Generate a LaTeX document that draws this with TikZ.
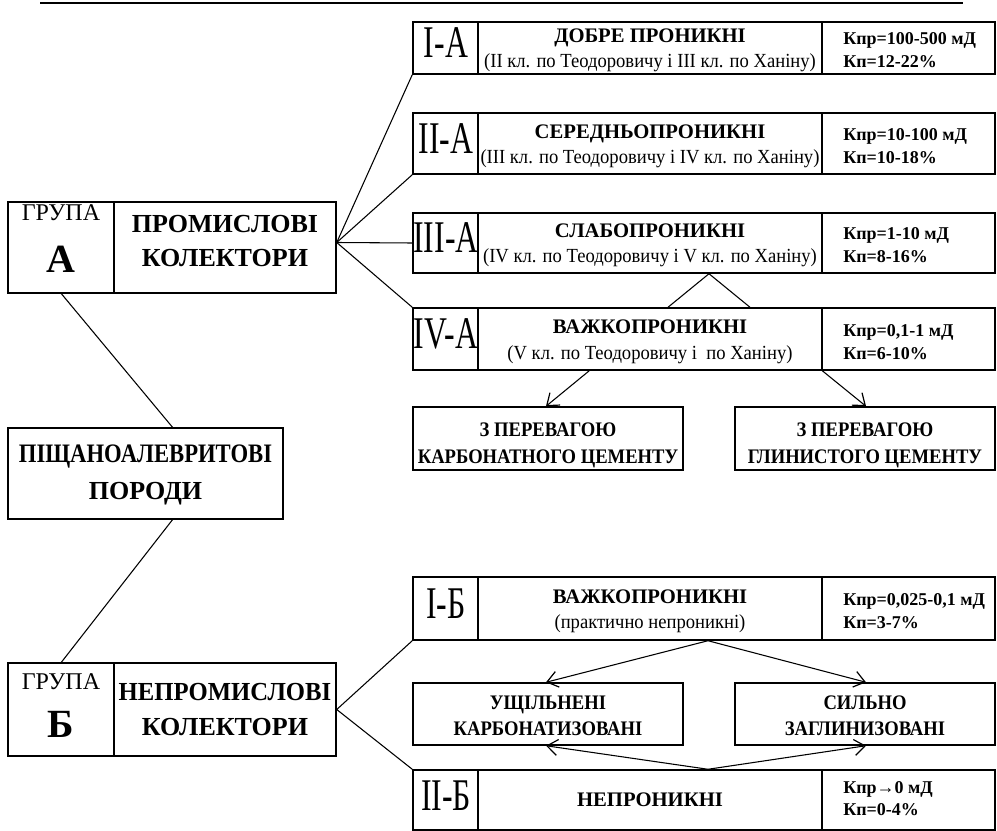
\documentclass[tikz,border=0pt]{standalone}
\usepackage{fontspec}
\usepackage{graphicx}
\setmainfont{Liberation Serif}
\newfontfamily\lblfont{Liberation Serif}[FakeStretch=0.7]
\newfontfamily\subfont{Liberation Serif}[FakeStretch=0.93]
\newfontfamily\midfont{Liberation Serif}[FakeStretch=0.9]
\newfontfamily\ppfont{Liberation Serif}[FakeStretch=0.85]
\newfontfamily\npfont{Liberation Serif}[FakeStretch=0.95]
\usetikzlibrary{arrows.meta,fit,calc}
\tikzset{
  x=0.75pt, y=-0.75pt,
  box/.style={draw, line width=1.1pt, inner sep=0pt},
  divline/.style={line width=1.1pt},
  link/.style={line width=0.8pt},
  arr/.style={line width=0.8pt, -{Straight Barb[length=8pt,width=12pt,line width=0.9pt]}},
  lbl/.style={font=\lblfont\fontsize{34}{36}\selectfont, inner sep=0, anchor=base},
  ttl/.style={font=\bfseries\fontsize{15.5}{17}\selectfont, inner sep=0, anchor=base},
  subt/.style={font=\subfont\fontsize{15}{17}\selectfont, inner sep=0, anchor=base},
  kk/.style={font=\bfseries\fontsize{13.5}{15}\selectfont, inner sep=0, anchor=base west},
  big/.style={font=\bfseries\fontsize{19.5}{22}\selectfont, inner sep=0, anchor=base},
  grp/.style={font=\fontsize{18}{20}\selectfont, inner sep=0, anchor=base},
  grpl/.style={font=\bfseries\fontsize{30}{32}\selectfont, inner sep=0, anchor=base},
  sbx/.style={font=\midfont\bfseries\fontsize{15.5}{17}\selectfont, inner sep=0, anchor=base},
}
% name, top, bottom, label, title, subtitle, k1, k2
\newcommand\rowbox[8]{%
  \node[box, fit={(413,#2) (995,#3)}] (#1) {};
  \draw[divline] (478,#2) -- (478,#3) (822,#2) -- (822,#3);
  \node[lbl] (#1-l) at (446,{(#2+#3)/2+10}) {#4};
  \node[ttl] (#1-t) at (650,{(#2+#3)/2-5}) {#5};
  \node[subt] (#1-s) at (650,{(#2+#3)/2+20}) {#6};
  \node[kk] (#1-k1) at (843,{(#2+#3)/2-3}) {#7};
  \node[kk] (#1-k2) at (843,{(#2+#3)/2+20}) {#8};
}
\begin{document}
\begin{tikzpicture}
\useasboundingbox (0,0) rectangle (997,831);
\draw[line width=1.5pt] (40,3) -- (963,3);

% Group A
\node[box, fit={(8,202) (336,293)}] (ga) {};
\node[inner sep=0, fit={(8,202) (114,293)}] (gal) {};
\draw[divline] (114,202) -- (114,293);
\node[grp] (ga-g) at (61,221) {ГРУПА};
\node[grpl] (ga-a) at (61,273) {А};
\node[big] (ga-1) at (225,233) {ПРОМИСЛОВІ};
\node[big] (ga-2) at (225,267) {КОЛЕКТОРИ};

% Central box
\node[box, fit={(8,428) (283,519)}] (pp) {};
\node[big, font=\ppfont\bfseries\fontsize{20}{22}\selectfont] (pp-1) at (145.5,462) {ПІЩАНОАЛЕВРИТОВІ};
\node[big] (pp-2) at (145.5,499) {ПОРОДИ};

% Group B
\node[box, fit={(8,663) (336,756)}] (gb) {};
\node[inner sep=0, fit={(8,663) (114,756)}] (gbl) {};
\draw[divline] (114,663) -- (114,756);
\node[grp] (gb-g) at (61,689) {ГРУПА};
\node[grpl] (gb-a) at (61,737) {Б};
\node[big, font=\npfont\bfseries\fontsize{19.5}{22}\selectfont] (gb-1) at (225,700) {НЕПРОМИСЛОВІ};
\node[big] (gb-2) at (225,735) {КОЛЕКТОРИ};

% Rows A
\rowbox{ia}{22}{74}{I-A}{ДОБРЕ ПРОНИКНІ}{(II кл. по Теодоровичу і III кл. по Ханіну)}{Кпр=100-500 мД}{Кп=12-22\%}
\rowbox{iia}{113}{174}{II-A}{СЕРЕДНЬОПРОНИКНІ}{(III кл. по Теодоровичу і IV кл. по Ханіну)}{Кпр=10-100 мД}{Кп=10-18\%}
\rowbox{iiia}{213}{273}{III-A}{СЛАБОПРОНИКНІ}{(IV кл. по Теодоровичу і V кл. по Ханіну)}{Кпр=1-10 мД}{Кп=8-16\%}
\rowbox{iva}{308}{370}{IV-A}{ВАЖКОПРОНИКНІ}{(V кл. по Теодоровичу і \ по Ханіну)}{Кпр=0,1-1 мД}{Кп=6-10\%}

% Sub boxes A
\node[box, fit={(413,407) (683,470)}] (sal) {};
\node[sbx] (sal-1) at (548,436) {З ПЕРЕВАГОЮ};
\node[sbx] (sal-2) at (548,463) {КАРБОНАТНОГО ЦЕМЕНТУ};
\node[box, fit={(735,407) (995,470)}] (sar) {};
\node[sbx] (sar-1) at (865,436) {З ПЕРЕВАГОЮ};
\node[sbx] (sar-2) at (865,463) {ГЛИНИСТОГО ЦЕМЕНТУ};

% Rows B
\rowbox{ib}{577}{640}{I-Б}{ВАЖКОПРОНИКНІ}{(практично непроникні)}{Кпр=0,025-0,1 мД}{Кп=3-7\%}
\node[box, fit={(413,770) (995,830)}] (iib) {};
\draw[divline] (478,770) -- (478,830) (822,770) -- (822,830);
\node[lbl] (iib-l) at (446,810) {II-Б};
\node[ttl] (iib-t) at (650,806) {НЕПРОНИКНІ};
\node[kk] (iib-k1) at (843,793) {Кпр→0 мД};
\node[kk] (iib-k2) at (843,815) {Кп=0-4\%};

% Sub boxes B
\node[box, fit={(413,683) (683,745)}] (sbl) {};
\node[sbx] (sbl-1) at (548,709) {УЩІЛЬНЕНІ};
\node[sbx] (sbl-2) at (548,735) {КАРБОНАТИЗОВАНІ};
\node[box, fit={(735,683) (995,745)}] (sbr) {};
\node[sbx] (sbr-1) at (865,709) {СИЛЬНО};
\node[sbx] (sbr-2) at (865,735) {ЗАГЛИНИЗОВАНІ};

% Connectors
\draw[link] ($(ga.east)+(0,-5)$) -- (ia.south west);
\draw[link] ($(ga.east)+(0,-5)$) -- (iia.south west);
\draw[link] ($(ga.east)+(0,-5)$) -- (iiia.west);
\draw[link] ($(ga.east)+(0,-5)$) -- (iva.north west);
\draw[link] (gal.south) -- ($(pp.north)+(27,0)$);
\draw[link] ($(pp.south)+(27,0)$) -- (gbl.north);
\draw[link] (gb.east) -- (ib.south west);
\draw[link] (gb.east) -- (iib.north west);
\draw[link] ($(iva.north)+(-36,0)$) -- ($(iiia.south)+(5,0)$) -- ($(iva.north)+(46,0)$);
\draw[arr] ($(iva.south west)+(177,0)$) -- ($(sal.north)+(-2,0)$);
\draw[arr] ($(iva.south west)+(410,0)$) -- ($(sar.north)+(1,0)$);
\draw[arr] ($(ib.south)+(4,0)$) -- ($(sbl.north)+(-2,0)$);
\draw[arr] ($(ib.south)+(4,0)$) -- ($(sbr.north)+(1,0)$);
\draw[arr] ($(iib.north)+(4,0)$) -- ($(sbl.south)+(-2,0)$);
\draw[arr] ($(iib.north)+(4,0)$) -- ($(sbr.south)+(1,0)$);
\end{tikzpicture}
\end{document}
